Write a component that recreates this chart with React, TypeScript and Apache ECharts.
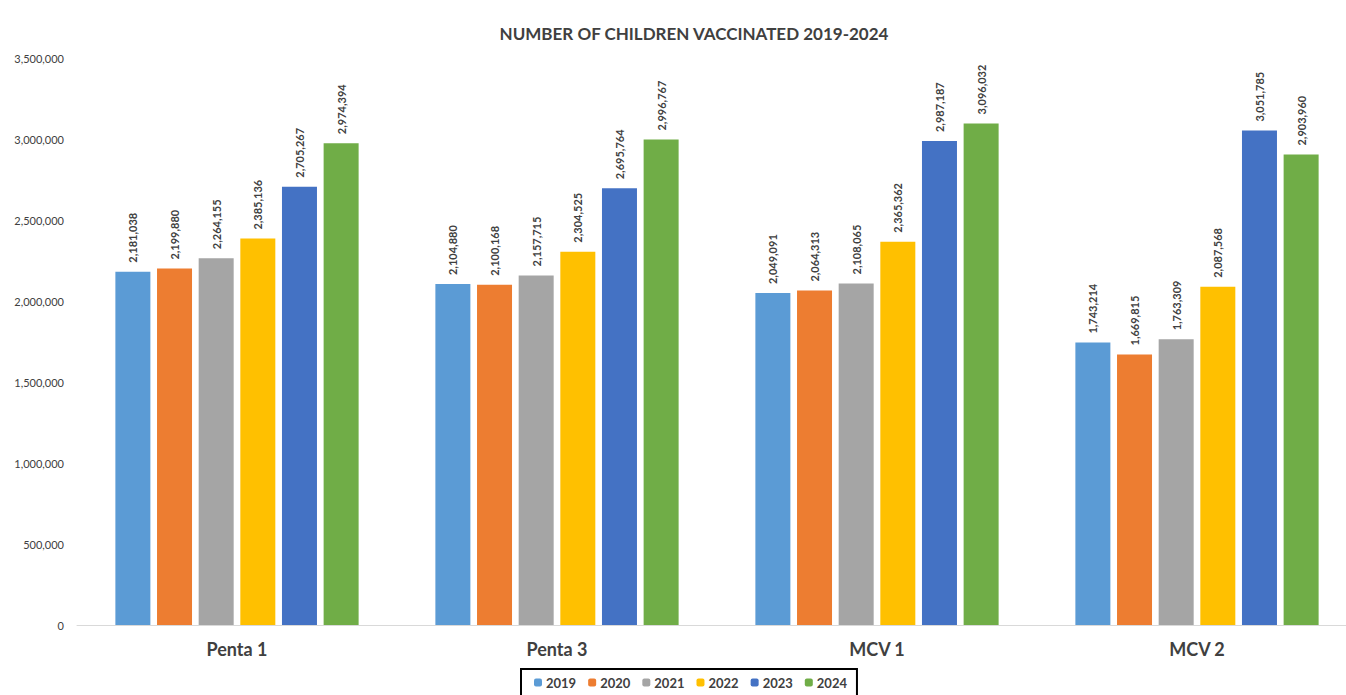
import React, { useEffect, useRef } from "react";
import * as echarts from "echarts";

const categories = ["Penta 1", "Penta 3", "MCV 1", "MCV 2"];
const years = ["2019", "2020", "2021", "2022", "2023", "2024"];
const values2019 = [2181038, 2104880, 2049091, 1743214];
const values2020 = [2199880, 2100168, 2064313, 1669815];
const values2021 = [2264155, 2157715, 2108065, 1763309];
const values2022 = [2385136, 2304525, 2365362, 2087568];
const values2023 = [2705267, 2695764, 2987187, 3051785];
const values2024 = [2974394, 2996767, 3096032, 2903960];
const yearColors = ["#5B9BD5", "#ED7D31", "#A5A5A5", "#FFC000", "#4472C4", "#70AD47"];

const FONT = "Lato, 'Open Sans', sans-serif";

export default function App() {
  const ref = useRef<HTMLDivElement>(null);

  useEffect(() => {
    document.body.style.margin = "0";
    document.body.style.overflow = "hidden";
    if (!ref.current) return;
    const chart = echarts.init(ref.current, undefined, { renderer: "svg" });
    const seriesValues = [values2019, values2020, values2021, values2022, values2023, values2024];
    const fmt = (v: number) => v.toLocaleString("en-US");

    chart.setOption({
      animation: false,
      backgroundColor: "#ffffff",
      textStyle: { fontFamily: FONT },
      title: {
        text: "NUMBER OF CHILDREN VACCINATED 2019-2024",
        left: 689,
        top: 20,
        textAlign: "center",
        textStyle: { fontSize: 17, fontWeight: "bold", color: "#404040", fontFamily: FONT },
      },
      legend: {
        top: 669,
        left: 521,
        itemWidth: 8,
        itemHeight: 8,
        itemGap: 12,
        borderColor: "#000000",
        borderWidth: 2,
        padding: [7, 10, 10, 13],
        textStyle: { fontSize: 13, fontWeight: "bold", color: "#404040", fontFamily: FONT, padding: [0, 0, 0, -1] },
        data: years,
      },
      grid: { left: 77, right: 3, top: 58, bottom: 70, containLabel: false },
      xAxis: {
        type: "category",
        data: categories,
        axisTick: { show: false },
        axisLine: { lineStyle: { color: "#d9d9d9", width: 1 } },
        axisLabel: { fontSize: 18, fontWeight: "bold", color: "#404040", margin: 15, fontFamily: FONT },
      },
      yAxis: {
        type: "value",
        min: 0,
        max: 3500000,
        interval: 500000,
        splitLine: { show: false },
        axisLine: { show: false },
        axisTick: { show: false },
        axisLabel: {
          fontSize: 11,
          color: "#404040",
          margin: 13,
          fontFamily: FONT,
          formatter: (v: number) => fmt(v),
        },
      },
      series: years.map((y, i) => ({
        name: y,
        type: "bar",
        data: seriesValues[i],
        barWidth: 35,
        barGap: "19%",
        itemStyle: { color: yearColors[i] },
        label: {
          show: true,
          position: "top",
          rotate: 90,
          align: "left",
          verticalAlign: "middle",
          distance: 9,
          fontSize: 11,
          fontWeight: "bold",
          color: "#404040",
          fontFamily: FONT,
          formatter: (p: any) => fmt(p.value),
        },
      })),
    });
    return () => chart.dispose();
  }, []);

  return <div ref={ref} style={{ width: 1360, height: 695 }} />;
}
